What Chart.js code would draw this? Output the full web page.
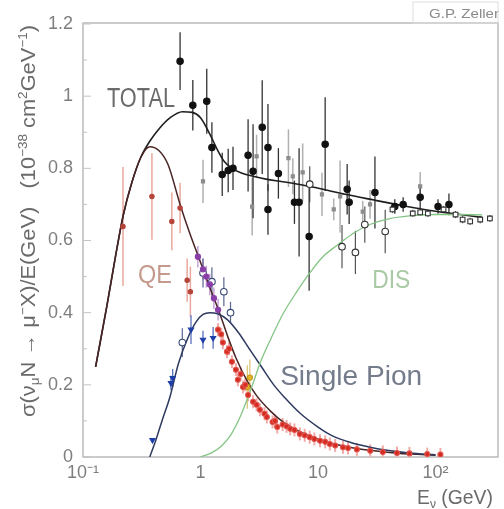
<!DOCTYPE html>
<html><head><meta charset="utf-8">
<script src="https://cdn.jsdelivr.net/npm/chart.js@4/dist/chart.umd.min.js"></script>
<style>html,body{margin:0;padding:0;background:#fff;overflow:hidden}</style>
</head><body><canvas id="c" width="504" height="509"></canvas>
<script>
// ---------- axis ticks ----------
const xTickValues = [0.1, 1, 10, 100];
const xTickLabels = ['10\u207B\u00B9', '1', '10', '10\u00B2'];
const yTickValues = [0, 0.2, 0.4, 0.6, 0.8, 1.0, 1.2];
const yTickLabels = ['0', '0.2', '0.4', '0.6', '0.8', '1', '1.2'];

// ---------- model curves ----------
const totalCurveE = [0.128,0.16,0.19,0.22,0.26,0.31,0.37,0.45,0.55,0.7,0.85,1.0,1.2,1.4,1.6,1.85,2.2,2.8,3.6,5,7,11,17,30,50,80,130,250];
const totalCurveV = [0.25,0.42,0.56,0.67,0.76,0.83,0.875,0.912,0.94,0.957,0.955,0.94,0.895,0.85,0.818,0.80,0.788,0.778,0.77,0.763,0.755,0.742,0.728,0.712,0.698,0.686,0.676,0.664];
const qeCurveE = [0.128,0.16,0.19,0.22,0.26,0.31,0.37,0.44,0.53,0.67,0.81,1.0,1.2,1.45,1.7,2.0,2.5,3.0,4.0,5.0,7.0,10,15,20,30,50,70,100];
const qeCurveV = [0.25,0.42,0.56,0.67,0.76,0.83,0.86,0.85,0.81,0.70,0.62,0.54,0.47,0.40,0.335,0.275,0.21,0.17,0.125,0.098,0.07,0.049,0.033,0.025,0.017,0.010,0.0075,0.005];
const pionCurveE = [0.37,0.42,0.47,0.55,0.65,0.78,0.92,1.05,1.2,1.4,1.7,2.1,2.6,3.3,4.2,5.2,7,10,13,19,27,40,60,100];
const pionCurveV = [0.0,0.05,0.1,0.167,0.26,0.33,0.375,0.395,0.40,0.397,0.38,0.345,0.30,0.25,0.2,0.165,0.122,0.083,0.06,0.04,0.028,0.018,0.011,0.006];
const disCurveE = [1.0,1.25,1.5,1.8,2.2,2.7,3.3,4.0,5.0,6.5,8.5,11,15,20,28,40,60,100,160,250];
const disCurveV = [0.0,0.012,0.03,0.06,0.115,0.19,0.27,0.33,0.395,0.455,0.51,0.555,0.59,0.62,0.645,0.66,0.668,0.672,0.672,0.671];

// ---------- data points (E, value, error) ----------
const totFilledE = [0.67,0.86,1.13,1.25,1.53,1.72,1.89,2.54,2.8,3.35,3.75,3.75,4.6,6.3,6.9,8.4,11.5,17.7,18.4,30.5,45,53,74,105,130];
const totFilledV = [1.097,0.975,0.986,0.858,0.783,0.794,0.80,0.836,0.792,0.914,0.858,0.686,0.786,0.706,0.706,0.611,0.867,0.742,0.706,0.733,0.694,0.70,0.72,0.694,0.70];
const totFilledErr = [0.08,0.07,0.09,0.07,0.06,0.06,0.06,0.1,0.13,0.13,0.12,0.07,0.07,0.06,0.15,0.15,0.13,0.07,0.06,0.1,0.02,0.02,0.03,0.02,0.03];

const totGrayE = [1.05,2.75,3.0,5.6,6.1,7.4,10.8,13.6,15.4,24,27.7,74];
const totGrayV = [0.764,0.694,0.833,0.828,0.778,0.789,0.728,0.686,0.722,0.68,0.70,0.75];
const totGrayErr = [0.06,0.08,0.06,0.08,0.05,0.08,0.06,0.03,0.1,0.03,0.04,0.04];

const totOpenE = [8.5,16,20.8,25,37.3];
const totOpenV = [0.756,0.583,0.567,0.644,0.625];
const totOpenErr = [0.05,0.06,0.06,0.05,0.06];

const totSquareE = [43,64,74,86,117,148,170,197,240,290];
const totSquareV = [0.686,0.675,0.678,0.675,0.686,0.672,0.658,0.653,0.658,0.661];
const totSquareErr = [0.01,0.01,0.01,0.01,0.01,0.01,0.01,0.01,0.01,0.01];

const qeLowE = [0.219,0.386,0.57,0.67,0.77,0.82];
const qeLowV = [0.639,0.722,0.653,0.69,0.49,0.458];
const qeLowErr = [0.165,0.12,0.08,0.07,0.06,0.07];

const qeHighE = [1.41,1.5,1.55,1.68,1.75,1.85,2.0,2.08,2.2,2.3,2.4,2.54,2.8,3.0,3.2,3.5,3.67,4.1,4.3,4.5,5.0,5.4,5.8,6.3,7.0,7.7,8.5,9.3,10.4,11.5,12.6,14,16.3,18,21.4,27.8,35.6,47,60,85,110];
const qeHighV = [0.353,0.34,0.317,0.292,0.30,0.264,0.242,0.214,0.23,0.194,0.20,0.172,0.153,0.145,0.131,0.12,0.111,0.097,0.10,0.083,0.09,0.085,0.078,0.075,0.064,0.06,0.055,0.05,0.045,0.042,0.036,0.032,0.027,0.025,0.021,0.017,0.014,0.011,0.01,0.008,0.007];
const qeHighErr = qeHighV.map(() => 0.018);

const qePurpleE = [0.95,1.05,1.12,1.2,1.3,1.41];
const qePurpleV = [0.555,0.52,0.50,0.478,0.44,0.408];
const qePurpleErr = [0.03,0.03,0.03,0.03,0.03,0.03];

const openNavyE = [0.7,1.05,1.25,1.58,1.8];
const openNavyV = [0.317,0.51,0.486,0.458,0.40];
const openNavyErr = [0.04,0.04,0.04,0.04,0.03];

const pionBlueE = [0.39,0.56,0.58,0.83,1.05,1.28];
const pionBlueV = [0.047,0.205,0.219,0.353,0.325,0.33];
const pionBlueErr = [0.0,0.02,0.025,0.04,0.025,0.03];

const yellowE = [2.5,2.63];
const yellowV = [0.194,0.22];
const yellowErr = [0.06,0.05];

// ---------- helpers ----------
const FONT = '"Liberation Sans", Arial, Helvetica, sans-serif';
const pts = (xs, ys) => xs.map((x, i) => ({x, y: ys[i]}));

function curve(label, xs, ys, color, width) {
  return {type:'line', label, data: pts(xs, ys), borderColor: color, borderWidth: width,
    pointRadius: 0, fill: false, cubicInterpolationMode: 'monotone', order: 1};
}
function markers(label, xs, ys, errs, opt) {
  return Object.assign({type:'scatter', label, data: pts(xs, ys), errors: errs,
    showLine: false, order: 0, pointBorderWidth: 1.1}, opt);
}

const errorBarPlugin = {
  id: 'errorBars',
  beforeDatasetsDraw(chart) {
    const {ctx, scales:{x, y}} = chart;
    ctx.save();
    chart.data.datasets.forEach((ds) => {
      if (!ds.errors) return;
      ctx.strokeStyle = ds.errColor || '#444';
      ctx.lineWidth = ds.errWidth || 1.2;
      ds.data.forEach((p, i) => {
        const e = ds.errors[i];
        if (!e) return;
        const px = x.getPixelForValue(p.x);
        ctx.beginPath();
        ctx.moveTo(px, y.getPixelForValue(p.y + e));
        ctx.lineTo(px, y.getPixelForValue(Math.max(0, p.y - e)));
        ctx.stroke();
      });
    });
    ctx.restore();
  }
};

function drawRich(ctx, segs, x, y, size, align, targetW) {
  const szOf = s => (s.sup || s.sub) ? size * 0.62 : size;
  let w = 0;
  segs.forEach(s => { ctx.font = szOf(s) + 'px ' + FONT; w += ctx.measureText(s.t).width; });
  const f = targetW ? targetW / w : 1;
  ctx.save();
  ctx.translate(x, y);
  ctx.scale(f, 1);
  let cx = align === 'right' ? -w : align === 'center' ? -w / 2 : 0;
  ctx.textAlign = 'left';
  ctx.textBaseline = 'alphabetic';
  segs.forEach(s => {
    ctx.font = szOf(s) + 'px ' + FONT;
    const dy = s.sup ? -size * 0.42 : s.sub ? size * 0.22 : 0;
    ctx.fillText(s.t, cx, dy);
    cx += ctx.measureText(s.t).width;
  });
  ctx.restore();
}

const decorPlugin = {
  id: 'decor',
  beforeDraw(chart) {
    const {ctx, chartArea: a, scales:{x, y}} = chart;
    ctx.save();
    ctx.strokeStyle = '#a8a8a8';
    ctx.lineWidth = 1.2;
    ctx.strokeRect(a.left, a.top - 1, a.right - a.left, a.bottom - a.top + 1);
    ctx.strokeStyle = '#c4c4c4';
    ctx.lineWidth = 1;
    yTickValues.forEach(v => {
      const py = y.getPixelForValue(v);
      ctx.beginPath(); ctx.moveTo(a.left, py); ctx.lineTo(a.left + 8, py); ctx.stroke();
    });
    for (let v = 0.1; v < 1.2; v += 0.2) {
      const py = y.getPixelForValue(v);
      ctx.beginPath(); ctx.moveTo(a.left, py); ctx.lineTo(a.left + 4, py); ctx.stroke();
    }
    ctx.restore();
  },
  afterDraw(chart) {
    const {ctx, chartArea: a, scales:{x, y}} = chart;
    ctx.save();
    ctx.fillStyle = '#6a6a6a';
    ctx.save();
    ctx.translate(35, 221);
    ctx.rotate(-Math.PI / 2);
    drawRich(ctx, [
      {t:'\u03C3(\u03BD'}, {t:'\u03BC', sub:true}, {t:'N \u2192 \u03BC'}, {t:'\u2212', sup:true},
      {t:'X)/E(GeV)   (10'}, {t:'\u221238', sup:true}, {t:' cm'}, {t:'2', sup:true},
      {t:'GeV'}, {t:'\u22121', sup:true}, {t:')'}
    ], 0, 0, 20, 'center', 392);
    ctx.restore();
    drawRich(ctx, [{t:'E'}, {t:'\u03BD', sub:true}, {t:' (GeV)'}], 493, 504, 20, 'right', 76);
    ctx.fillStyle = '#6b6b6b';
    drawRich(ctx, [{t:'TOTAL'}], x.getPixelForValue(0.16), y.getPixelForValue(0.97), 27, 'left', 68);
    ctx.fillStyle = '#c49a8c';
    drawRich(ctx, [{t:'QE'}], x.getPixelForValue(0.294), y.getPixelForValue(0.483), 25, 'left', 34);
    ctx.fillStyle = '#a9caa5';
    drawRich(ctx, [{t:'DIS'}], x.getPixelForValue(28.9), y.getPixelForValue(0.469), 25, 'left', 38);
    ctx.fillStyle = '#747b8a';
    drawRich(ctx, [{t:'Single Pion'}], x.getPixelForValue(4.76), y.getPixelForValue(0.2), 27, 'left', 142);
    ctx.fillStyle = '#8a8a8a';
    drawRich(ctx, [{t:'G.P. Zeller'}], chart.width - 5, 18, 12, 'right', 70);
    ctx.strokeStyle = '#dddddd';
    ctx.lineWidth = 1;
    ctx.strokeRect(a.right - 85, 2, 85, a.top - 3);
    ctx.restore();
  }
};

new Chart(document.getElementById('c'), {
  data: {
    datasets: [
      markers('QE low E', qeLowE, qeLowV, qeLowErr, {pointStyle:'circle', pointRadius:2.2, backgroundColor:'#b5443a', borderColor:'#b5443a', errColor:'#e9a89e', errWidth:1.5}),
      markers('QE high E', qeHighE, qeHighV, qeHighErr, {pointStyle:'circle', pointRadius:2.5, backgroundColor:'#d42a22', borderColor:'#e0554c', errColor:'#f2aaa6', errWidth:2}),
      markers('Total gray', totGrayE, totGrayV, totGrayErr, {pointStyle:'rect', pointRadius:2.2, backgroundColor:'#8d8d8d', borderColor:'#8d8d8d', errColor:'#b0b0b0', errWidth:1.5}),
      curve('DIS', disCurveE, disCurveV, '#84c584', 1.3),
      curve('Single Pion', pionCurveE, pionCurveV, '#2e3a60', 1.5),
      curve('QE', qeCurveE, qeCurveV, '#4a2424', 1.5),
      curve('TOTAL', totalCurveE, totalCurveV, '#1e1e1e', 1.6),
      markers('Purple', qePurpleE, qePurpleV, qePurpleErr, {pointStyle:'circle', pointRadius:2.6, backgroundColor:'#8a3fa8', borderColor:'#8a3fa8', errColor:'#b88ccc'}),
      markers('Yellow', yellowE, yellowV, yellowErr, {pointStyle:'circle', pointRadius:2.6, backgroundColor:'#e3b52a', borderColor:'#c99a18', errColor:'#d8c070'}),
      markers('Pion blue', pionBlueE, pionBlueV, pionBlueErr, {pointStyle:'triangle', rotation:180, pointRadius:3, backgroundColor:'#1f3fa8', borderColor:'#1f3fa8', errColor:'#4a64b8'}),
      markers('Open navy', openNavyE, openNavyV, openNavyErr, {pointStyle:'circle', pointRadius:3.3, backgroundColor:'#ffffff', borderColor:'#3a4a78', errColor:'#5a6690'}),
      markers('Total open', totOpenE, totOpenV, totOpenErr, {pointStyle:'circle', pointRadius:3.3, backgroundColor:'#ffffff', borderColor:'#333333', errColor:'#555555'}),
      markers('Total squares', totSquareE, totSquareV, totSquareErr, {pointStyle:'rect', pointRadius:3.3, backgroundColor:'#ffffff', borderColor:'#333333', errColor:'#555555'}),
      markers('Total filled', totFilledE, totFilledV, totFilledErr, {pointStyle:'circle', pointRadius:3.2, backgroundColor:'#111111', borderColor:'#111111', errColor:'#333333', errWidth:1.3})
    ]
  },
  options: {
    responsive: false, animation: false, devicePixelRatio: 1,
    layout: {padding: {top: 24, right: 6, left: 0, bottom: 0}},
    plugins: {legend: {display: false}, tooltip: {enabled: false}},
    scales: {
      x: {
        type: 'logarithmic', min: 0.1, max: 340,
        afterBuildTicks: s => { s.ticks = xTickValues.map(v => ({value: v})); },
        afterFit: s => { s.height = 52; },
        grid: {display: false, drawTicks: false}, border: {display: false},
        ticks: {callback: (v, i) => xTickLabels[i], font: {family: FONT, size: 18}, color: '#7e7e7e', padding: 5, maxRotation: 0, autoSkip: false}
      },
      y: {
        min: 0, max: 1.2,
        afterBuildTicks: s => { s.ticks = yTickValues.map(v => ({value: v})); },
        afterFit: s => { s.width = 83; },
        grid: {display: false, drawTicks: false}, border: {display: false},
        ticks: {callback: (v, i) => yTickLabels[i], font: {family: FONT, size: 18}, color: '#7e7e7e', padding: 10, autoSkip: false}
      }
    }
  },
  plugins: [errorBarPlugin, decorPlugin]
});
</script></body></html>
